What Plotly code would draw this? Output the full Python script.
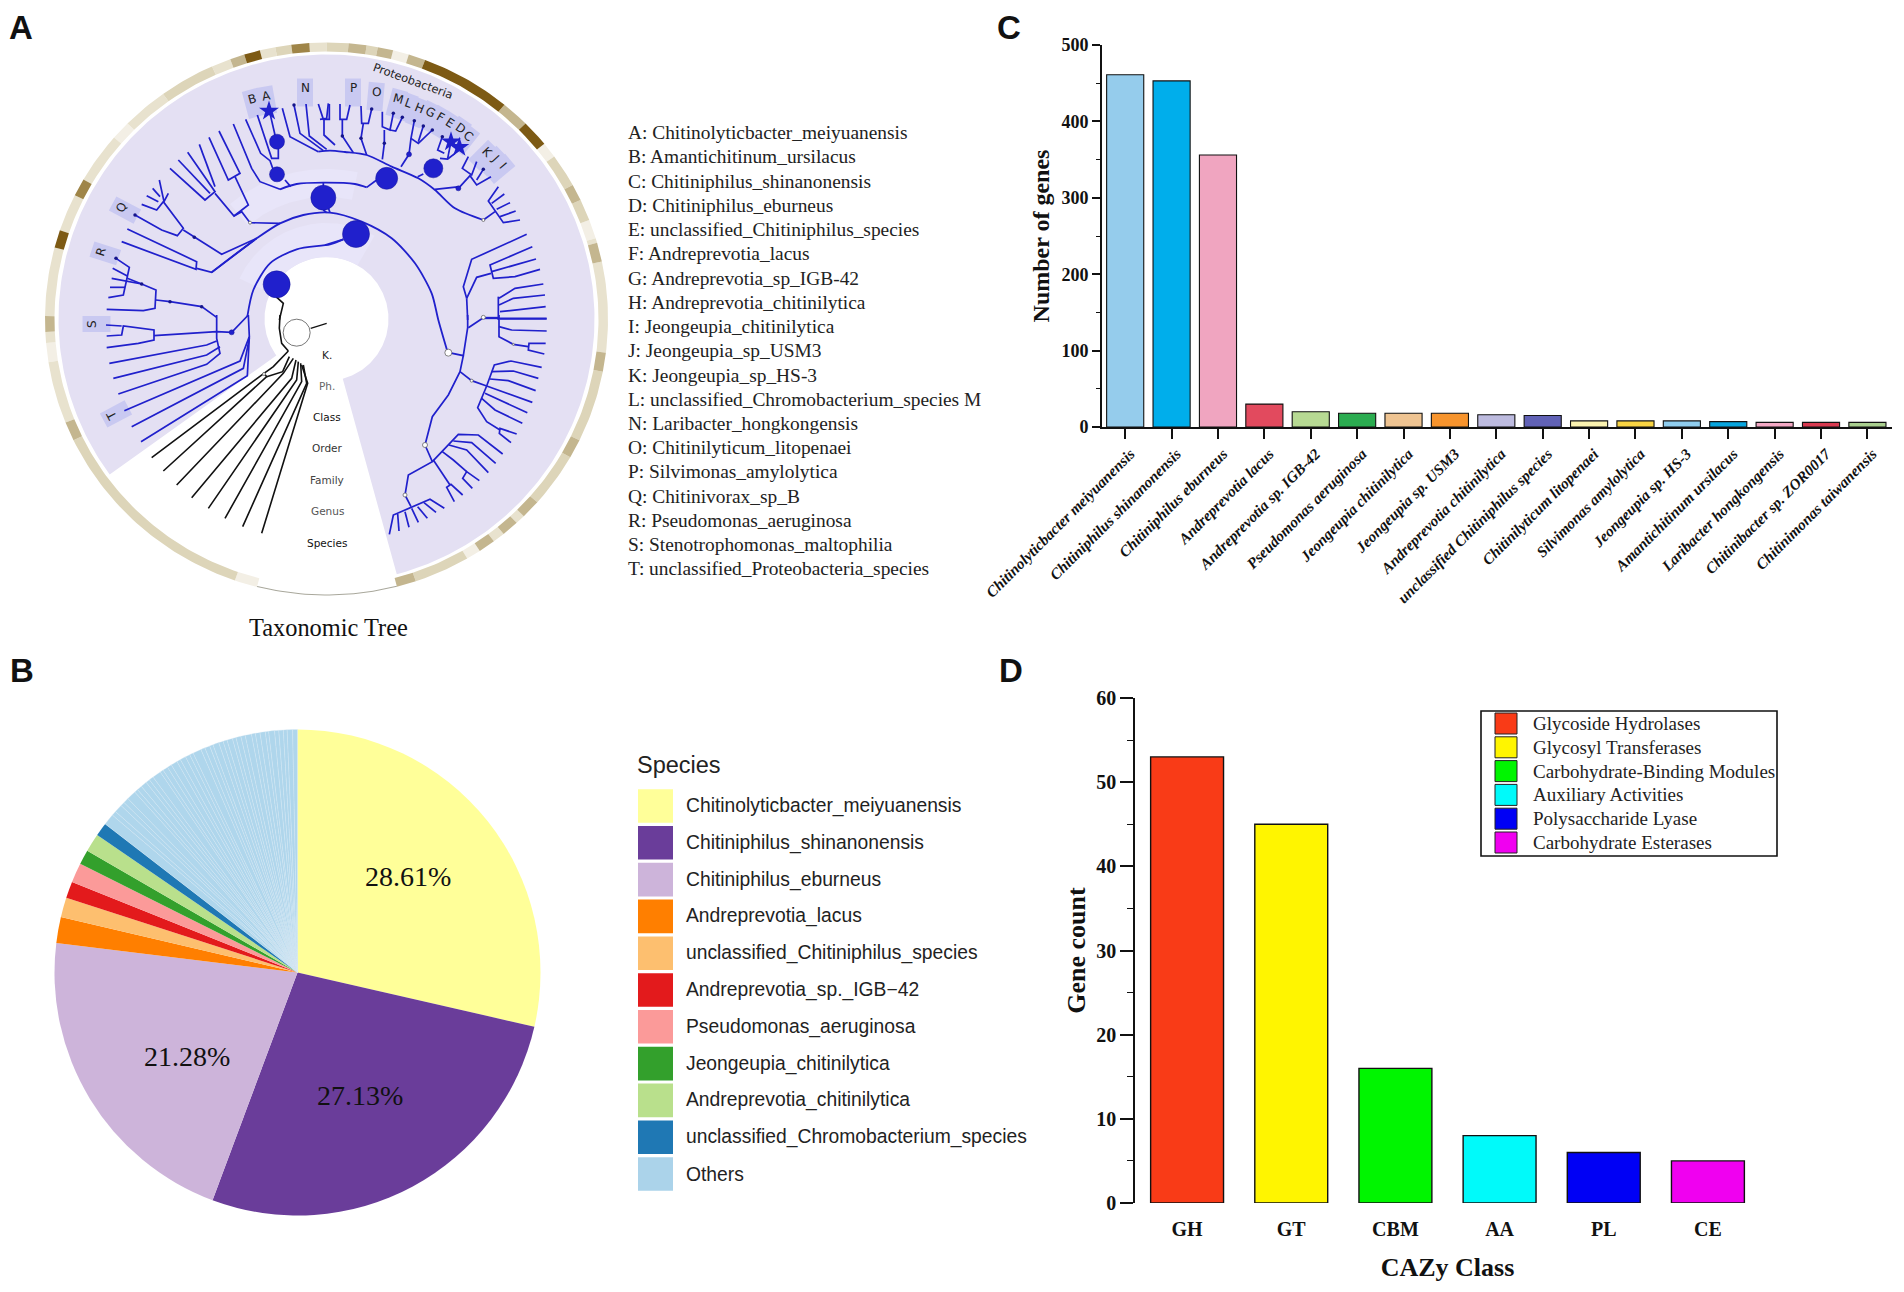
import numpy as np
import plotly.graph_objects as go

# ---------- Panel C ----------
genes_species = ["Chitinolyticbacter meiyuanensis", "Chitiniphilus shinanonensis", "Chitiniphilus eburneus",
                 "Andreprevotia lacus", "Andreprevotia sp. IGB-42", "Pseudomonas aeruginosa",
                 "Jeongeupia chitinilytica", "Jeongeupia sp. USM3", "Andreprevotia chitinilytica",
                 "unclassified Chitiniphilus species", "Chitinilyticum litopenaei", "Silvimonas amylolytica",
                 "Jeongeupia sp. HS-3", "Amantichitinum ursilacus", "Laribacter hongkongensis",
                 "Chitinibacter sp. ZOR0017", "Chitinimonas taiwanensis"]
genes_counts = [461, 453, 356, 30, 20, 18, 18, 18, 16, 15, 8, 8, 8, 7, 6, 6, 6]
genes_colors = ["#95CCEC", "#00AEEB", "#F0A5C0", "#E24A5E", "#B7DA93", "#2BAC50", "#EFC492", "#F7942D", "#BDBBDF",
                "#6162B6", "#FBF3B0", "#F9D443", "#8FCDEE", "#08A6DF", "#F4A8C4", "#D93A50", "#A9CF8E"]

# ---------- Panel D ----------
cazy_classes = ["GH", "GT", "CBM", "AA", "PL", "CE"]
cazy_counts = [53, 45, 16, 8, 6, 5]
cazy_colors = ["#F93B17", "#FFF500", "#00F500", "#00FAFA", "#0000F5", "#F000F0"]
cazy_names = ["Glycoside Hydrolases", "Glycosyl Transferases", "Carbohydrate-Binding Modules",
              "Auxiliary Activities", "Polysaccharide Lyase", "Carbohydrate Esterases"]

# ---------- Panel B ----------
pie_labels = ["Chitinolyticbacter_meiyuanensis", "Chitiniphilus_shinanonensis", "Chitiniphilus_eburneus",
              "Andreprevotia_lacus", "unclassified_Chitiniphilus_species", "Andreprevotia_sp._IGB\u221242",
              "Pseudomonas_aeruginosa", "Jeongeupia_chitinilytica", "Andreprevotia_chitinilytica",
              "unclassified_Chromobacterium_species"]
pie_values = [28.61, 27.13, 21.28, 1.72, 1.31, 1.11, 1.31, 0.97, 1.22, 0.89]
pie_colors = ["#FFFF99", "#6A3D9A", "#CDB4DA", "#FF7F00", "#FDBF6F", "#E31A1C", "#FB9A99", "#33A02C", "#B9E08C", "#1F78B4"]
others_color = "#AFD6EC"
others_values = [0.75, 0.31, 0.54, 0.28, 0.36, 0.62, 0.24, 0.33, 0.41, 0.27, 0.30, 0.58, 0.22, 0.35, 0.29, 0.43,
                 0.26, 0.38, 0.31, 0.25, 0.56, 0.28, 0.34, 0.23, 0.40, 0.30, 0.27, 0.37, 0.24, 0.33, 0.29, 0.42,
                 0.26, 0.31, 0.35, 0.22, 0.39, 0.28, 0.30, 0.25, 0.36, 0.32]
pie_pct_text = ["28.61%", "27.13%", "21.28%"]
pie_pct_x = [408, 360, 187]
pie_pct_y = [876, 1095, 1056]

# ---------- Panel A list ----------
tree_legend = ["A: Chitinolyticbacter_meiyuanensis", "B: Amantichitinum_ursilacus", "C: Chitiniphilus_shinanonensis",
               "D: Chitiniphilus_eburneus", "E: unclassified_Chitiniphilus_species", "F: Andreprevotia_lacus",
               "G: Andreprevotia_sp_IGB-42", "H: Andreprevotia_chitinilytica", "I: Jeongeupia_chitinilytica",
               "J: Jeongeupia_sp_USM3", "K: Jeongeupia_sp_HS-3", "L: unclassified_Chromobacterium_species M",
               "N: Laribacter_hongkongensis", "O: Chitinilyticum_litopenaei", "P: Silvimonas_amylolytica",
               "Q: Chitinivorax_sp_B", "R: Pseudomonas_aeruginosa", "S: Stenotrophomonas_maltophilia",
               "T: unclassified_Proteobacteria_species"]
rank_names = ["K.", "Ph.", "Class", "Order", "Family", "Genus", "Species"]
rank_y = [355, 386, 417, 448, 480, 511, 543]
rank_colors = ["#222222", "#666666", "#111111", "#333333", "#444444", "#555555", "#111111"]

# outer ring: start angle, end angle (degrees clockwise from the top), shade level
ring_start = [0, 4.5, 8.2, 10.5, 13.7, 17, 20.5, 39.2, 45, 50.7, 54, 61, 64.5, 69, 73, 74, 78, 97, 101, 116, 120, 131.5,
              135.5, 137.5, 141, 143.5, 147, 150, 161.5, 194.3, 199, 244, 248, 261, 265, 267.3, 270.6, 285, 288.7,
              296.6, 300.3, 311, 315, 324.5, 336, 340, 343, 346.3, 349.5, 352.8, 356.5]
ring_end = [4.5, 8.2, 10.5, 13.7, 17, 20.5, 39.2, 45, 50.7, 54, 61, 64.5, 69, 73, 74, 78, 97, 101, 116, 120, 131.5,
            135.5, 137.5, 141, 143.5, 147, 150, 161.5, 165.5, 199, 244, 248, 261, 265, 267.3, 270.6, 285, 288.7,
            296.6, 300.3, 311, 315, 324.5, 336, 340, 343, 346.3, 349.5, 352.8, 356.5, 360]
ring_level = [2, 3, 2, 3, 0, 3, 5, 3, 5, 0, 2, 3, 2, 0, 1, 3, 1, 3, 2, 3, 2, 3,
              1, 3, 1, 3, 0, 2, 3, 0, 2, 3, 1, 0, 1, 3, 1, 5, 1,
              4, 1, 0, 1, 2, 1, 3, 5, 1, 2, 4, 1]
ring_palette = ["#F3EFE5", "#E8E2CE", "#DDD5B9", "#C4B68F", "#9F8548", "#7D5A14"]

# tree polylines, read in the four enlarged quadrants of the picture (quadrant units)
blue_tl = [
 [(580, 282), (635, 415), (660, 455), (720, 478)], [(690, 250), (705, 315)],
 [(652, 255), (695, 385), (715, 385), (715, 355)], [(617, 268), (662, 370), (690, 392), (700, 420)],
 [(735, 450), (752, 470)],
 [(727, 235), (750, 320), (835, 365)], [(762, 225), (780, 310), (850, 362)], [(798, 222), (808, 318), (860, 358)],
 [(835, 222), (850, 268), (868, 268), (868, 222)], [(852, 268), (852, 315), (885, 345)],
 [(285, 555), (365, 600), (412, 617), (430, 595), (370, 515), (350, 540), (305, 523)],
 [(385, 490), (372, 515), (358, 450)], [(360, 500), (338, 475)], [(355, 515), (320, 497)],
 [(430, 600), (545, 673), (650, 625)], [(262, 597), (470, 695), (468, 718), (245, 635)],
 [(470, 715), (515, 727), (650, 625)],
 [(390, 415), (495, 510), (525, 485), (443, 367)], [(415, 390), (510, 490)], [(478, 343), (525, 470)],
 [(507, 322), (565, 450), (600, 430), (537, 303)], [(525, 490), (582, 558), (625, 525), (585, 440)],
 [(582, 558), (605, 545), (630, 578), (720, 580)],
 [(200, 838), (310, 842), (345, 835), (348, 780), (305, 762), (215, 745)],
 [(348, 810), (390, 815), (485, 830), (530, 862)],
 [(228, 685), (268, 712), (250, 795), (205, 803)], [(218, 715), (262, 738)], [(210, 772), (255, 772)],
 [(262, 745), (305, 762)], [(850, 458), (850, 470)], [(850, 540), (860, 548)],
]
blue_tr = [
 [(10, 220), (5, 265), (-15, 268)], [(75, 225), (65, 268), (45, 268), (45, 222)], [(52, 268), (52, 318), (85, 368)],
 [(140, 237), (130, 280), (110, 280), (108, 228)], [(115, 280), (108, 325), (125, 375)],
 [(205, 250), (195, 300), (172, 290), (172, 245)], [(232, 262), (212, 303), (195, 300)],
 [(178, 300), (178, 340), (172, 388)],
 [(268, 272), (258, 325), (280, 340), (322, 300)], [(295, 288), (280, 335)], [(258, 325), (252, 373), (228, 410)],
 [(352, 320), (338, 360), (358, 370)], [(378, 335), (368, 385)], [(403, 352), (388, 372), (368, 387), (345, 385)],
 [(295, 432), (278, 440)],
 [(430, 380), (412, 415), (440, 435), (455, 395)], [(475, 418), (455, 450)],
 [(498, 440), (455, 465), (435, 437), (405, 470), (330, 478)],
 [(520, 470), (490, 513), (535, 578), (585, 570)], [(538, 492), (500, 520)], [(555, 518), (515, 538)],
 [(572, 543), (525, 560)], [(475, 570), (510, 545)],
 [(605, 613), (440, 688), (415, 770), (425, 805)], [(622, 650), (495, 705), (505, 745), (570, 740), (645, 718)],
 [(633, 687), (500, 725)], [(498, 730), (455, 742), (425, 805)], [(425, 805), (428, 870)],
 [(475, 865), (520, 865)], [(520, 800), (520, 870)], [(655, 762), (570, 775), (522, 805)],
 [(660, 795), (565, 805), (522, 825)], [(662, 830), (525, 845)], [(665, 865), (520, 865)],
 [(55, 628), (0, 645)], [(125, 472), (155, 450)], [(0, 503), (15, 548)],
]
blue_bl = [
 [(530, 0), (530, 70), (540, 115), (500, 148), (235, 237)],
 [(200, 98), (295, 85), (342, 75), (342, 45), (250, 33), (245, 60), (200, 63)], [(198, 30), (245, 33)],
 [(342, 62), (530, 50), (575, 52), (625, 0)],
 [(208, 145), (500, 90), (530, 78)], [(220, 190), (500, 120), (540, 95)],
 [(253, 287), (600, 138), (628, 65), (625, 0)], [(275, 335), (610, 160), (628, 70)], [(303, 380), (622, 182), (628, 65)],
]
blue_br = [
 [(665, 12), (525, 12)], [(665, 48), (560, 45), (522, 35)], [(522, 0), (522, 65), (565, 88), (610, 95)],
 [(662, 85), (612, 85), (610, 105), (658, 117)], [(475, 8), (520, 8)], [(430, 38), (475, 8)],
 [(428, 0), (428, 38), (415, 122), (380, 115), (368, 112)],
 [(415, 122), (405, 170), (370, 240), (322, 305), (300, 390)],
 [(405, 170), (440, 197), (485, 213)],
 [(650, 157), (558, 138), (508, 150), (485, 213), (458, 278), (485, 320), (525, 345)],
 [(640, 190), (565, 168), (500, 170)], [(632, 227), (550, 197), (495, 192)], [(622, 262), (485, 213)],
 [(607, 293), (480, 235)], [(592, 325), (510, 285), (470, 250)],
 [(575, 357), (525, 340), (523, 355), (558, 383)],
 [(300, 390), (322, 440), (250, 480), (240, 540), (258, 575)],
 [(533, 417), (460, 360), (400, 358), (322, 440)], [(512, 445), (440, 383), (385, 378)],
 [(490, 473), (425, 405), (372, 390)], [(463, 497), (425, 470), (413, 490), (442, 520)],
 [(425, 470), (385, 435), (352, 410)], [(413, 540), (378, 508), (365, 517), (388, 560)], [(375, 510), (325, 435)],
 [(358, 580), (315, 553), (205, 600), (193, 658)], [(333, 592), (297, 563)], [(307, 610), (278, 575)],
 [(280, 622), (260, 580)], [(252, 637), (240, 590)], [(222, 648), (218, 597)],
]
# long curved stems in quadrant units of the top-left quadrant (may run beyond it)
arc_stems = [
 [(622, 860), (640, 780), (690, 700), (770, 658), (870, 643), (910, 628)],
 [(515, 727), (650, 625), (720, 580), (790, 555), (870, 548), (965, 575), (1055, 625), (1125, 700), (1175, 790),
  (1195, 870), (1223, 967)],
 [(720, 478), (770, 462), (850, 458), (945, 462), (980, 472)],
 [(835, 365), (870, 362), (915, 366), (980, 375), (1055, 410), (1135, 445), (1185, 480), (1245, 535), (1330, 570)],
]
black_bl = [
 [(335, 428), (672, 175), (680, 185), (370, 468)], [(672, 175), (700, 155), (745, 108)],
 [(680, 185), (728, 170), (748, 125)], [(410, 510), (730, 175), (760, 130)],
 [(455, 548), (755, 190), (768, 135)], [(505, 580), (770, 195), (775, 140)],
 [(555, 610), (785, 200), (782, 145)], [(608, 635), (800, 205), (790, 150)], [(665, 655), (803, 205), (785, 150)],
 [(745, 108), (725, 85), (718, 40), (720, 0)],
]
black_tl = [[(708, 800), (730, 820), (718, 870)]]
black_thin_bl = [[(812, 40), (860, 25)]]

# nodes: quadrant, x, y, diameter in px
big_nodes = [("tl", 710, 763, 27), ("tl", 850, 503, 25), ("tr", 93, 612, 27), ("tr", 185, 445, 22), ("tr", 325, 415, 19),
             ("tl", 711, 433, 15), ("tl", 711, 335, 15), ("bl", 575, 52, 5), ("tr", 252, 373, 5), ("tr", 400, 475, 5)]
small_nodes = [("tl", 285, 555), ("tl", 228, 685), ("tl", 305, 762), ("tl", 390, 815), ("tl", 485, 830), ("tl", 463, 622),
               ("tr", 52, 318), ("tr", 108, 325), ("tr", 178, 340), ("tr", 268, 272), ("tr", 295, 288), ("tr", 322, 300),
               ("tr", 205, 250), ("tr", 232, 262), ("tr", 352, 320), ("tr", 475, 418), ("tr", 140, 237), ("tl", 762, 225)]
open_nodes = [("br", 370, 113, 7), ("br", 300, 390, 5), ("br", 240, 540, 4), ("tr", 475, 570, 3), ("tl", 630, 578, 3),
              ("tr", 475, 862, 4), ("br", 440, 197, 3), ("bl", 672, 177, 3), ("br", 565, 88, 2)]
star_nodes = [("tl", 687, 243), ("tr", 378, 335), ("tr", 403, 352)]

# clade labels: letter, x, y, rotation
clade_letters = ["B", "A", "N", "P", "O", "M", "L", "H", "G", "F", "E", "D", "C", "K", "J", "I", "Q", "R", "S", "T"]
clade_x = [252, 266, 305, 353, 376, 398, 408, 419, 430, 440, 450, 460, 468, 487, 495, 503, 121, 101, 92, 112]
clade_y = [99, 96, 88, 88, 92, 99, 103, 108, 112, 117, 123, 128, 136, 152, 158, 166, 208, 252, 324, 416]
clade_rot = [-15, -10, 0, 0, 5, 15, 20, 22, 27, 30, 33, 35, 38, 45, 47, 50, -62, -72, -90, -118]

# ---------- geometry helpers ----------
W, H = 1904, 1292
OFF = {"tl": (40, 30), "tr": (325, 30), "bl": (40, 315), "br": (325, 315)}
CX, CY = 326.5, 319
BLUE = "#2020CC"


def q(name, x, y):
    return OFF[name][0] + x / 3, OFF[name][1] + y / 3


def lines(quadrant_sets):
    xs, ys = [], []
    for name, polys in quadrant_sets:
        for poly in polys:
            for a, b in poly:
                px, py = q(name, a, b)
                xs.append(px)
                ys.append(py)
            xs.append(None)
            ys.append(None)
    return xs, ys


def sector(a0, a1, r0x, r0y, r1x, r1y):
    t = np.radians(np.linspace(a0, a1, max(3, int(abs(a1 - a0)) + 2)))
    x = np.r_[CX + r1x * np.sin(t), CX + r0x * np.sin(t[::-1])]
    y = np.r_[CY - r1y * np.cos(t), CY - r0y * np.cos(t[::-1])]
    return list(x) + [x[0], None], list(y) + [y[0], None]


fig = go.Figure()


def poly_trace(x, y, color):
    fig.add_trace(go.Scatter(x=x, y=y, mode="lines", fill="toself", fillcolor=color, line=dict(width=0),
                             hoverinfo="skip", showlegend=False, xaxis="x", yaxis="y"))


# ring
for lv, col in enumerate(ring_palette):
    xs, ys = [], []
    for s, e, l in zip(ring_start, ring_end, ring_level):
        if l == lv:
            a, b = sector(s, e, 272, 267.5, 281.5, 276.5)
            xs += a
            ys += b
    poly_trace(xs, ys, col)
a, b = sector(165.5, 194.3, 280.5, 275.5, 281.5, 276.5)
poly_trace(a, b, "#A9A89C")

# background wedge + clade bands
a, b = sector(-126, 164.8, 62, 62, 268, 264.5)
poly_trace(a, b, "#E4E0F3")
a, b = sector(-65, 30, 62, 62, 96, 96)
poly_trace(a, b, "#E8E5F9")
a, b = sector(-40, 12, 122, 122, 150, 150)
poly_trace(a, b, "#E8E5F9")

# clade label boxes
xs, ys = [], []
for cxx, cyy, rot in zip(clade_x, clade_y, clade_rot):
    t = np.radians(rot)
    ux, uy = np.sin(t), -np.cos(t)
    vx, vy = np.cos(t), np.sin(t)
    mx, my = cxx - 4.5 * ux, cyy - 4.5 * uy
    for s1, s2 in [(14, 8), (14, -8), (-14, -8), (-14, 8), (14, 8)]:
        xs.append(mx + s1 * ux + s2 * vx)
        ys.append(my + s1 * uy + s2 * vy)
    xs.append(None)
    ys.append(None)
poly_trace(xs, ys, "#C9C9F1")

# tree
x, y = lines([("tl", blue_tl), ("tr", blue_tr), ("bl", blue_bl), ("br", blue_br)])
fig.add_trace(go.Scatter(x=x, y=y, mode="lines", line=dict(color=BLUE, width=1.7), hoverinfo="skip", showlegend=False))
x, y = lines([("tl", arc_stems)])
fig.add_trace(go.Scatter(x=x, y=y, mode="lines", line=dict(color=BLUE, width=1.8, shape="spline", smoothing=0.8),
                         connectgaps=False, hoverinfo="skip", showlegend=False))
x, y = lines([("bl", black_bl), ("tl", black_tl)])
fig.add_trace(go.Scatter(x=x, y=y, mode="lines", line=dict(color="#111111", width=1.6), hoverinfo="skip", showlegend=False))
x, y = lines([("bl", black_thin_bl)])
fig.add_trace(go.Scatter(x=x, y=y, mode="lines", line=dict(color="#111111", width=1.2), hoverinfo="skip", showlegend=False))
cx_root, cy_root = q("bl", 770, 53)
fig.add_trace(go.Scatter(x=[cx_root], y=[cy_root], mode="markers", hoverinfo="skip", showlegend=False,
                         marker=dict(size=27, color="white", opacity=1, line=dict(color="#555555", width=0.8))))
# nodes
pts = [q(n, a, b) for n, a, b, _ in big_nodes]
fig.add_trace(go.Scatter(x=[p[0] for p in pts], y=[p[1] for p in pts], mode="markers", hoverinfo="skip", showlegend=False,
                         marker=dict(size=[n[3] for n in big_nodes], color=BLUE, opacity=1,
                                     line=dict(color="#15159A", width=0.5))))
pts = [q(n, a, b) for n, a, b in small_nodes]
fig.add_trace(go.Scatter(x=[p[0] for p in pts], y=[p[1] for p in pts], mode="markers", hoverinfo="skip", showlegend=False,
                         marker=dict(size=3.5, color="#15158A", opacity=1)))
pts = [q(n, a, b) for n, a, b, _ in open_nodes]
fig.add_trace(go.Scatter(x=[p[0] for p in pts], y=[p[1] for p in pts], mode="markers", hoverinfo="skip", showlegend=False,
                         marker=dict(size=[n[3] for n in open_nodes], color="white", opacity=1,
                                     line=dict(color="#666666", width=0.8))))
pts = [q(n, a, b) for n, a, b in star_nodes]
fig.add_trace(go.Scatter(x=[p[0] for p in pts], y=[p[1] for p in pts], mode="markers", hoverinfo="skip", showlegend=False,
                         marker=dict(size=15, symbol="star", color=BLUE, opacity=1, line=dict(width=0))))

# panel C, D bars
fig.add_trace(go.Bar(x=genes_species, y=genes_counts, marker=dict(color=genes_colors, line=dict(color="#111111", width=1.1)),
                     width=0.8, showlegend=False, xaxis="x2", yaxis="y2"))
fig.add_trace(go.Bar(x=cazy_classes, y=cazy_counts, marker=dict(color=cazy_colors, line=dict(color="#111111", width=1.4)),
                     width=0.7, showlegend=False, xaxis="x3", yaxis="y3"))

# panel B pie
all_labels = pie_labels + ["Others %d" % (i + 1) for i in range(len(others_values))]
all_values = pie_values + others_values
all_colors = pie_colors + [others_color] * len(others_values)
all_lines = [0] * len(pie_values) + [0.3] * len(others_values)
PCX, PCY, PR = 297.5, 972.5, 243
fig.add_trace(go.Pie(labels=all_labels, values=all_values, sort=False, direction="clockwise", rotation=0,
                     textinfo="none", hoverinfo="label+percent", showlegend=False,
                     marker=dict(colors=all_colors, line=dict(color="#DCECF5", width=all_lines)),
                     domain=dict(x=[(PCX - PR) / W, (PCX + PR) / W], y=[1 - (PCY + PR) / H, 1 - (PCY - PR) / H])))

ann, shp = [], []
SERIF, SANS, DEJA = "Liberation Serif", "Liberation Sans", "DejaVu Sans"


def text(x, y, s, size, family, color="#111111", anchor="center", angle=0, weight=None, layer_above=True):
    f = dict(size=size, family=family, color=color)
    if weight:
        f["weight"] = weight
    ann.append(dict(x=x, y=y, xref="x", yref="y", text=s, showarrow=False, font=f, xanchor=anchor, yanchor="middle",
                    textangle=angle, borderpad=0))


def box(x0, y0, x1, y1, fill, line=None, width=0):
    shp.append(dict(type="rect", xref="x", yref="y", x0=x0, y0=y0, x1=x1, y1=y1, fillcolor=fill,
                    line=dict(color=line or fill, width=width), layer="above"))


# panel letters
for s, x_, y_ in [("A", 21, 27), ("C", 1009, 27), ("B", 22, 670), ("D", 1011, 670)]:
    text(x_, y_, s, 33, SANS, "#111111", weight=700)

# clade text
for s, x_, y_, r in zip(clade_letters, clade_x, clade_y, clade_rot):
    text(x_, y_, s, 12, DEJA, "#222222", angle=r)
text(413, 81, "Proteobacteria", 11.5, DEJA, "#222222", angle=20)
for s, y_, c in zip(rank_names, rank_y, rank_colors):
    text(327, y_, s, 10.5, DEJA, c)
text(328, 627, "Taxonomic Tree", 24.4, SERIF)

# species key
for i, s in enumerate(tree_legend):
    text(627, 132.7 + 24.23 * i, s, 19.4, SERIF, "#222222", anchor="left")

# pie texts + legend
for s, x_, y_ in zip(pie_pct_text, pie_pct_x, pie_pct_y):
    text(x_, y_, s, 28, SERIF)
text(636, 765, "Species", 23.5, SANS, "#222222", anchor="left")
for i, (lab, col) in enumerate(zip(pie_labels + ["Others"], pie_colors + ["#ABD3EA"])):
    yc = 806 + 36.8 * i
    box(638, yc - 16.8, 673, yc + 16.8, col)
    text(685, yc, lab, 19.3, SANS, "#222222", anchor="left")

# CAZy legend
box(1481, 711, 1777, 856, "white", "#111111", 1.6)
for i, (lab, col) in enumerate(zip(cazy_names, cazy_colors)):
    yc = 723.5 + 23.8 * i
    box(1495, yc - 10.5, 1517, yc + 10.5, col, "#222222", 1)
    text(1532, yc, lab, 19, SERIF, "#222222", anchor="left")

fig.update_layout(
    width=W, height=H, margin=dict(l=0, r=0, t=0, b=0), paper_bgcolor="white", plot_bgcolor="rgba(0,0,0,0)",
    annotations=ann, shapes=shp, showlegend=False, bargap=0.2, template="none",
    xaxis=dict(domain=[0, 1], range=[0, W], visible=False, fixedrange=True, automargin=False),
    yaxis=dict(domain=[0, 1], range=[H, 0], visible=False, fixedrange=True, automargin=False),
    xaxis2=dict(domain=[1102 / W, 1892 / W], anchor="y2", range=[-0.5, 16.53], type="category", showline=True,
                linecolor="#111111", linewidth=2, ticks="outside", ticklen=10, tickwidth=1.6, tickcolor="#111111",
                tickangle=-45, showgrid=False, automargin=False, ticklabelshift=5,
                tickfont=dict(family=SERIF, size=15.3, color="#111111", weight=700, style="italic")),
    yaxis2=dict(domain=[1 - 427 / H, 1 - 45 / H], anchor="x2", range=[0, 500], showline=True, linecolor="#111111",
                linewidth=2, ticks="outside", ticklen=8, tickwidth=1.8, tickcolor="#111111", dtick=100, showgrid=False,
                zeroline=False, automargin=False,
                minor=dict(dtick=50, ticks="outside", ticklen=4, tickwidth=1.2, tickcolor="#111111"),
                tickfont=dict(family=SERIF, size=18, color="#111111", weight=700),
                title=dict(text="Number of genes", font=dict(family=SERIF, size=24, color="#111111", weight=700), standoff=5)),
    xaxis3=dict(domain=[1135 / W, 1760 / W], anchor="y3", range=[-0.5, 5.5], type="category", showline=False,
                ticks="outside", ticklen=8, tickcolor="rgba(0,0,0,0)", showgrid=False, zeroline=False, automargin=False,
                tickfont=dict(family=SERIF, size=20, color="#111111", weight=700),
                title=dict(text="CAZy Class", font=dict(family=SERIF, size=26, color="#111111", weight=700), standoff=18)),
    yaxis3=dict(domain=[1 - 1203 / H, 1 - 698 / H], anchor="x3", range=[0, 60], showline=True, linecolor="#111111",
                linewidth=1.6, ticks="outside", ticklen=13, tickwidth=1.6, tickcolor="#111111", dtick=10, showgrid=False,
                zeroline=False, automargin=False,
                minor=dict(dtick=5, ticks="outside", ticklen=6, tickwidth=1.2, tickcolor="#111111"),
                tickfont=dict(family=SERIF, size=20, color="#111111", weight=700),
                title=dict(text="Gene count", font=dict(family=SERIF, size=26, color="#111111", weight=700), standoff=3)),
)
fig.write_html("out.html", post_script="document.body.style.margin='0';", config={"displayModeBar": False})
